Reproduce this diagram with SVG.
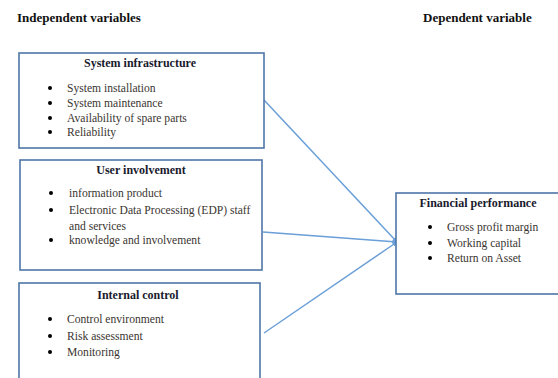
<svg xmlns="http://www.w3.org/2000/svg" width="558" height="378" viewBox="0 0 558 378">
<style>
.box{fill:#fff;stroke:#4f76a8;stroke-width:1.6}
.hd{font-family:"Liberation Serif","Times New Roman",serif;font-weight:bold;font-size:13px;fill:#111}
.tt{font-family:"Liberation Serif","Times New Roman",serif;font-weight:bold;font-size:12px;fill:#1a1a2e;text-anchor:middle}
.it{font-family:"Liberation Serif","Times New Roman",serif;font-size:11.6px;fill:#3a3530}
.bl{fill:#000}
.cn{stroke:#6a9fd8;stroke-width:1.5;fill:none;marker-end:url(#ah)}
</style>
<defs>
<marker id="ah" viewBox="0 0 10 10" refX="9" refY="5" markerWidth="5" markerHeight="5" orient="auto" markerUnits="userSpaceOnUse">
<path d="M0,0 L10,5 L0,10 z" fill="#6a9fd8"/>
</marker>
</defs>
<rect width="558" height="378" fill="#fff"/>
<text class="hd" x="17" y="22">Independent variables</text>
<text class="hd" x="423" y="22">Dependent variable</text>
<g id="connectors">
<line class="cn" x1="264" y1="100" x2="397" y2="242"/>
<line class="cn" x1="263" y1="232" x2="397" y2="242"/>
<line class="cn" x1="264" y1="333" x2="397" y2="242"/>
</g>
<g id="system-infrastructure">
<rect class="box" x="19" y="53" width="245" height="95"/>
<text class="tt" x="140" y="67">System infrastructure</text>
<circle class="bl" cx="50" cy="88" r="2"/><text class="it" x="67" y="92">System installation</text>
<circle class="bl" cx="50" cy="103" r="2"/><text class="it" x="67" y="107">System maintenance</text>
<circle class="bl" cx="50" cy="118" r="2"/><text class="it" x="67" y="122">Availability of spare parts</text>
<circle class="bl" cx="50" cy="132" r="2"/><text class="it" x="67" y="136">Reliability</text>
</g>
<g id="user-involvement">
<rect class="box" x="20" y="160" width="242" height="110"/>
<text class="tt" x="141" y="174">User involvement</text>
<circle class="bl" cx="51" cy="193" r="2"/><text class="it" x="69" y="197">information product</text>
<circle class="bl" cx="51" cy="210" r="2"/><text class="it" x="69" y="214">Electronic Data Processing (EDP) staff</text>
<text class="it" x="69" y="230">and services</text>
<circle class="bl" cx="51" cy="240" r="2"/><text class="it" x="69" y="244">knowledge and involvement</text>
</g>
<g id="internal-control">
<rect class="box" x="19" y="283" width="241" height="100"/>
<text class="tt" x="138" y="299">Internal control</text>
<circle class="bl" cx="50" cy="319" r="2"/><text class="it" x="67" y="323">Control environment</text>
<circle class="bl" cx="50" cy="336" r="2"/><text class="it" x="67" y="340">Risk assessment</text>
<circle class="bl" cx="50" cy="352" r="2"/><text class="it" x="67" y="356">Monitoring</text>
</g>
<g id="financial-performance">
<rect class="box" x="396" y="193" width="166" height="101"/>
<text class="tt" x="478" y="207">Financial performance</text>
<circle class="bl" cx="430" cy="227" r="2"/><text class="it" x="447" y="231">Gross profit margin</text>
<circle class="bl" cx="430" cy="243" r="2"/><text class="it" x="447" y="247">Working capital</text>
<circle class="bl" cx="430" cy="258" r="2"/><text class="it" x="447" y="262">Return on Asset</text>
</g>
</svg>
